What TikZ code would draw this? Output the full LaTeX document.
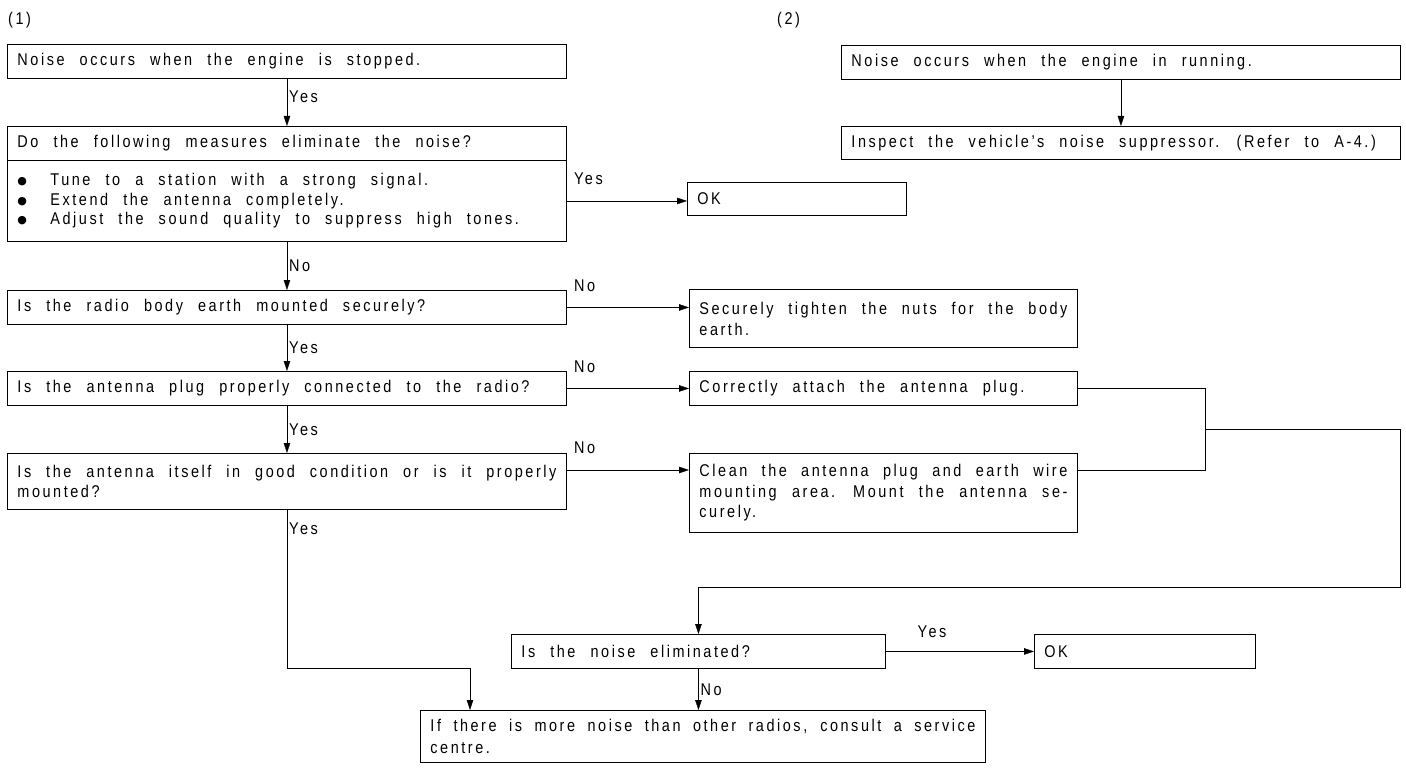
\documentclass[tikz,border=0pt]{standalone}
\usepackage{fontspec}
\setmainfont{Liberation Sans}[FakeStretch=0.85,LetterSpace=15,WordSpace=2.3]
\newfontfamily\dotfont{DejaVu Sans}
\usetikzlibrary{arrows.meta}
\hyphenpenalty=10000
\newcommand{\blt}{\makebox[33pt][l]{\raisebox{1.2pt}{\dotfont\fontsize{11}{11}\selectfont ●}}}

\begin{document}
\begin{tikzpicture}[x=1pt,y=-1pt,>={Triangle[length=10pt,width=6.5pt]},
    font=\fontsize{17}{21}\selectfont,
    box/.style={draw,line width=0.9pt,anchor=north west,inner xsep=10pt,inner ysep=0pt,
        text width=#1,align=justify},
    box/.default=539pt,
    lbl/.style={inner sep=2pt}]
    \useasboundingbox (0,0) rectangle (1406,770);

    % 标题
    \node[anchor=west,inner sep=0pt] (head1) at (8,20) {(1)};
    \node[anchor=west,inner sep=0pt] (head2) at (777,20) {(2)};

    % 左列
    \node[box,minimum height=34pt] (stop) at (7,44) {Noise occurs when the engine is stopped.};
    \node[box,minimum height=34pt] (measure) at (7,126) {Do the following measures eliminate the noise?};
    \node[box,minimum height=81pt,font=\fontsize{17}{19.5}\selectfont] (tips) at (7,160)
        {\blt Tune to a station with a strong signal.\\
         \blt Extend the antenna completely.\\
         \blt Adjust the sound quality to suppress high tones.};
    \node[box,minimum height=34pt] (radio) at (7,290) {Is the radio body earth mounted securely?};
    \node[box,minimum height=34pt] (plug) at (7,371) {Is the antenna plug properly connected to the radio?};
    \node[box,minimum height=56pt,font=\fontsize{17}{20}\selectfont] (aerial) at (7,453)
        {Is the antenna itself in good condition or is it properly\linebreak mounted?};

    % 右边的处理
    \node[box=199pt,minimum height=33pt] (ok1) at (687,182) {OK};
    \node[box=368pt,minimum height=58pt] (fix) at (689,289) {Securely tighten the nuts for the body\linebreak earth.};
    \node[box=368pt,minimum height=34pt] (attach) at (689,371) {Correctly attach the antenna plug.};
    \node[box=368pt,minimum height=79pt,font=\fontsize{17}{20.5}\selectfont] (clean) at (689,453)
        {Clean the antenna plug and earth wire\linebreak mounting area. Mount the antenna se-\linebreak curely.};

    % 流程 (2)
    \node[box,minimum height=34pt] (run) at (841,45) {Noise occurs when the engine in running.};
    \node[box,minimum height=33pt] (suppr) at (841,126) {Inspect the vehicle’s noise suppressor. (Refer to A-4.)};

    % 下面
    \node[box=354pt,minimum height=34pt] (elim) at (511,634) {Is the noise eliminated?};
    \node[box=201pt,minimum height=34pt] (ok2) at (1034,634) {OK};
    \node[box=545pt,minimum height=52pt,font=\fontsize{17}{22}\selectfont] (final) at (420,710)
        {If there is more noise than other radios, consult a service\linebreak centre.};

    \coordinate (join) at (1205,429);
    \coordinate (drop) at (1400,587);
    \coordinate (bend) at (470,668);

    % 箭头
    \draw[->] (stop.south) -- node[lbl,right,pos=0.38] (y1) {Yes} (measure.north);
    \draw[->] (tips.south) -- node[lbl,right] (n1) {No} (radio.north);
    \draw[->] (radio.south) -- node[lbl,right] (y2) {Yes} (plug.north);
    \draw[->] (plug.south) -- node[lbl,right] (y3) {Yes} (aerial.north);
    \draw[->] (tips.east) -- node[lbl,pos=0,anchor=south west,xshift=5pt,yshift=14pt] (y4) {Yes} (tips.east -| ok1.west);
    \draw[->] (radio.east) -- node[lbl,pos=0,anchor=south west,xshift=5pt,yshift=14pt] (n2) {No} (radio.east -| fix.west);
    \draw[->] (plug.east) -- node[lbl,pos=0,anchor=south west,xshift=5pt,yshift=14pt] (n3) {No} (plug.east -| attach.west);
    \draw[->] ([yshift=-17pt]aerial.north east) -- node[lbl,pos=0,anchor=south west,xshift=5pt,yshift=14pt] (n4) {No}
        ([yshift=-17pt]aerial.north east -| clean.west);
    \draw (attach.east) -| (join);
    \draw ([yshift=-17pt]clean.north east) -| (join);
    \draw[->] (join) -| (drop) -| (elim.north);
    \draw[->] (aerial.south) |- node[lbl,right,pos=0.06] (y5) {Yes} (bend) -- (bend |- final.north);
    \draw[->] (elim.east) -- node[lbl,pos=0.2,anchor=south west,yshift=12pt] (y6) {Yes} (ok2.west);
    \draw[->] (elim.south) -- node[lbl,right] (n5) {No} (elim.south |- final.north);
    \draw[->] (run.south) -- (suppr.north);
\end{tikzpicture}
\end{document}
